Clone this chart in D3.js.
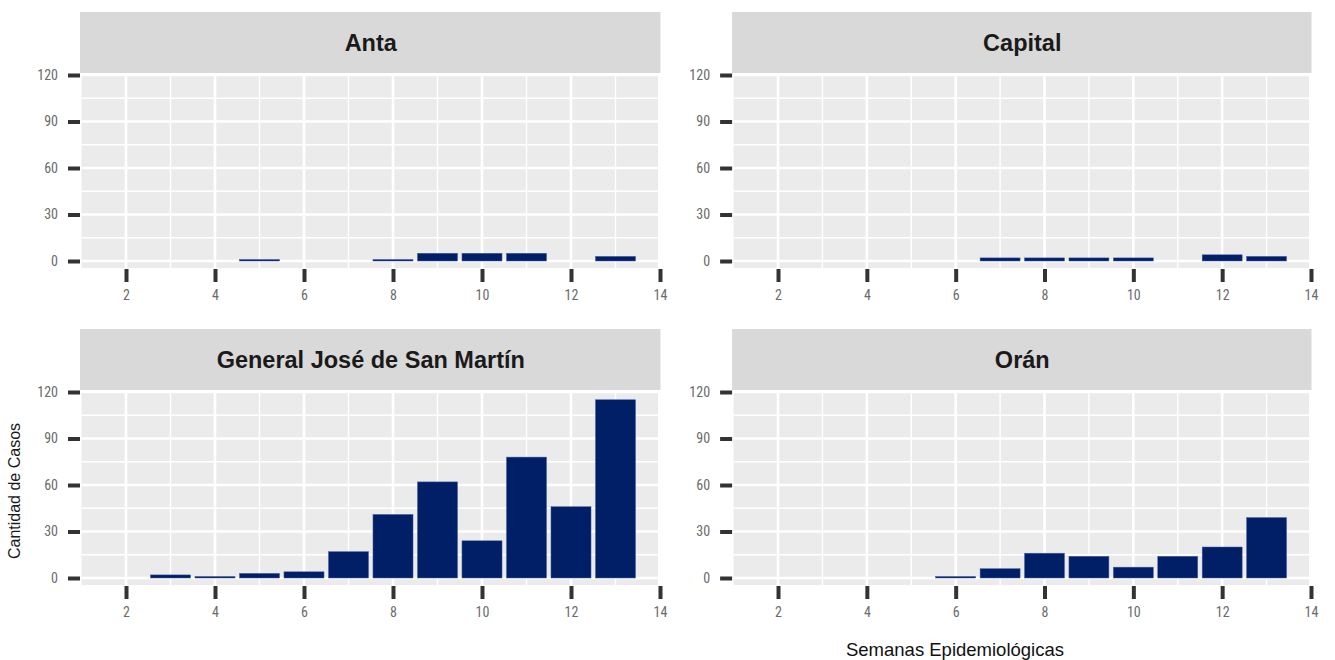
<!DOCTYPE html>
<html>
<head>
<meta charset="utf-8">
<script src="https://cdn.jsdelivr.net/npm/d3@7"></script>
<style>
    body { margin: 0; background: #fff; }
    svg { display: block; font-family: 'Liberation Sans', Arial, sans-serif; }
</style>
</head>
<body>
<div id="chart"></div>
<script>
//Datos
const departamentos = ['Anta', 'Capital', 'General José de San Martín', 'Orán'];
const semanasAnta = [5, 8, 9, 10, 11, 13],
    casosAnta = [1, 1, 5, 5, 5, 3];
const semanasCapital = [7, 8, 9, 10, 12, 13],
    casosCapital = [2, 2, 2, 2, 4, 3];
const semanasSanMartin = [3, 4, 5, 6, 7, 8, 9, 10, 11, 12, 13],
    casosSanMartin = [2, 1, 3, 4, 17, 41, 62, 24, 78, 46, 115];
const semanasOran = [6, 7, 8, 9, 10, 11, 12, 13],
    casosOran = [1, 6, 16, 14, 7, 14, 20, 39];
const xTicks = [2, 4, 6, 8, 10, 12, 14];
const yTicks = [0, 30, 60, 90, 120];

//Colores fijos
const COLOR_BAR = '#011f66',
    COLOR_STRIP = '#d9d9d9',
    COLOR_PANEL = '#ebebeb';
const TICK_FONT = "'Liberation Sans Narrow', 'Roboto Condensed', 'Liberation Sans', Arial, sans-serif";

let series = [
    { name: departamentos[0], semanas: semanasAnta, casos: casosAnta },
    { name: departamentos[1], semanas: semanasCapital, casos: casosCapital },
    { name: departamentos[2], semanas: semanasSanMartin, casos: casosSanMartin },
    { name: departamentos[3], semanas: semanasOran, casos: casosOran }
];

let width = 1335, height = 660;

let svg = d3.select('#chart')
    .append('svg')
        .attr('width', width)
        .attr('height', height);

//Posición de cada panel (columna, fila)
let colX = [[81.5, 660], [733.6, 1311]],
    rowY = [0, 317];

series.forEach(function(s, i) {
    let col = i % 2, row = Math.floor(i / 2);
    let dy = rowY[row];

    let x = d3.scaleLinear()
        .domain([1, 14])
        .range(colX[col]);

    let y = d3.scaleLinear()
        .domain([0, 120])
        .range([261 + dy, 75 + dy]);

    let g = svg.append('g').attr('class', 'panel');

    //Strip
    g.append('rect')
        .attr('x', x(1) - 1.5)
        .attr('y', 12 + dy)
        .attr('width', x(14) - x(1) + 2)
        .attr('height', 61)
        .attr('fill', COLOR_STRIP);

    g.append('text')
        .attr('x', (x(1) + x(14)) / 2)
        .attr('y', 45 + dy)
        .attr('text-anchor', 'middle')
        .attr('dominant-baseline', 'middle')
        .style('font-size', '23.5px')
        .style('font-weight', '700')
        .attr('fill', '#1a1a1a')
        .text(s.name);

    //Fondo del panel
    let top = y(120) + 1, bottom = y(-4.5);
    g.append('rect')
        .attr('x', x(1))
        .attr('y', top)
        .attr('width', x(14) - x(1) - 2)
        .attr('height', bottom - top)
        .attr('fill', COLOR_PANEL);

    //Rejilla menor
    let minorX = d3.range(3, 14, 2), minorY = d3.range(15, 120, 30);
    g.selectAll('.minor-x')
        .data(minorX)
        .enter()
        .append('line')
        .attr('x1', function(d) { return x(d); })
        .attr('x2', function(d) { return x(d); })
        .attr('y1', top)
        .attr('y2', bottom)
        .attr('stroke', '#fff')
        .attr('stroke-width', 1.4);

    g.selectAll('.minor-y')
        .data(minorY)
        .enter()
        .append('line')
        .attr('x1', x(1))
        .attr('x2', x(14) - 2)
        .attr('y1', function(d) { return y(d); })
        .attr('y2', function(d) { return y(d); })
        .attr('stroke', '#fff')
        .attr('stroke-width', 1.4);

    //Rejilla mayor
    g.selectAll('.major-x')
        .data(xTicks.filter(function(d) { return d < 14; }))
        .enter()
        .append('line')
        .attr('x1', function(d) { return x(d); })
        .attr('x2', function(d) { return x(d); })
        .attr('y1', top)
        .attr('y2', bottom)
        .attr('stroke', '#fff')
        .attr('stroke-width', 2.6);

    g.selectAll('.major-y')
        .data(yTicks)
        .enter()
        .append('line')
        .attr('x1', x(1))
        .attr('x2', x(14) - 2)
        .attr('y1', function(d) { return y(d); })
        .attr('y2', function(d) { return y(d); })
        .attr('stroke', '#fff')
        .attr('stroke-width', 2.6);

    //Barras
    let data = s.semanas.map(function(w, j) { return { semana: w, casos: s.casos[j] }; });
    g.selectAll('.bar')
        .data(data)
        .enter()
        .append('rect')
        .attr('x', function(d) { return x(d.semana - 0.45); })
        .attr('width', function(d) { return x(d.semana + 0.45) - x(d.semana - 0.45); })
        .attr('y', function(d) { return y(d.casos); })
        .attr('height', function(d) { return y(0) - y(d.casos); })
        .attr('fill', COLOR_BAR)
        .attr('stroke', '#4862a6')
        .attr('stroke-width', 0.5);

    //Eje Y
    let yAxis = g.append('g')
        .attr('transform', 'translate(' + (x(1) - 1.5) + ',0)')
        .call(d3.axisLeft(y).tickValues(yTicks).tickSize(12).tickPadding(10));
    yAxis.select('.domain').remove();
    yAxis.selectAll('.tick line').attr('stroke', '#333').attr('stroke-width', 4);
    yAxis.selectAll('.tick text')
        .attr('fill', '#6b6b6b')
        .style('font-size', '14px')
        .style('font-family', TICK_FONT);

    //Eje X
    let xAxis = g.append('g')
        .attr('transform', 'translate(0,' + (269 + dy) + ')')
        .call(d3.axisBottom(x).tickValues(xTicks).tickSize(13).tickPadding(8));
    xAxis.select('.domain').remove();
    xAxis.selectAll('.tick line').attr('stroke', '#333').attr('stroke-width', 4);
    xAxis.selectAll('.tick text')
        .attr('fill', '#6b6b6b')
        .style('font-size', '14px')
        .style('font-family', TICK_FONT);
});

//Títulos de ejes
svg.append('text')
    .attr('transform', 'translate(20,491) rotate(-90)')
    .attr('text-anchor', 'middle')
    .style('font-size', '16px')
    .attr('fill', '#1a1a1a')
    .text('Cantidad de Casos');

svg.append('text')
    .attr('x', 955)
    .attr('y', 656)
    .attr('text-anchor', 'middle')
    .style('font-size', '18.5px')
    .attr('fill', '#111')
    .text('Semanas Epidemiológicas');
</script>
</body>
</html>
